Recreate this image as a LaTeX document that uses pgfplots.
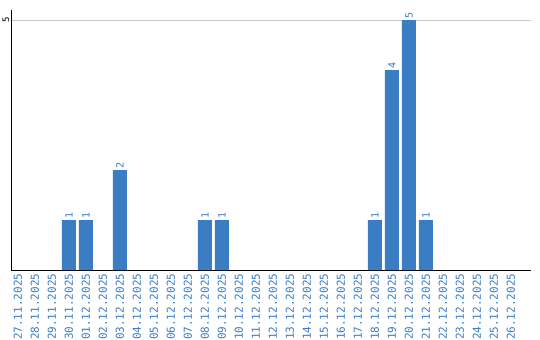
\documentclass[border=0pt]{standalone}
\usepackage{fontspec}
\setmainfont{DejaVu Sans Mono}
\usepackage{pgfplots}
\pgfplotsset{compat=1.18}
\definecolor{barblue}{RGB}{59,125,195}
\begin{document}
\begin{tikzpicture}
\useasboundingbox (-11bp,-70bp) rectangle (529bp,270bp);
\begin{axis}[
  at={(0,0)}, anchor=south west,
  scale only axis, width=520bp, height=260bp,
  xmin=-0.41, xmax=30.18, ymin=0, ymax=5.2,
  ybar, bar width=14bp,
  axis x line*=bottom, axis y line*=left,
  axis line style={black, line width=1pt},
  xtick={0,...,29},
  xticklabels={27.11.2025,28.11.2025,29.11.2025,30.11.2025,01.12.2025,02.12.2025,03.12.2025,04.12.2025,05.12.2025,06.12.2025,07.12.2025,08.12.2025,09.12.2025,10.12.2025,11.12.2025,12.12.2025,13.12.2025,14.12.2025,15.12.2025,16.12.2025,17.12.2025,18.12.2025,19.12.2025,20.12.2025,21.12.2025,22.12.2025,23.12.2025,24.12.2025,25.12.2025,26.12.2025},
  xticklabel style={rotate=90, anchor=east, text=barblue, font=\fontsize{11bp}{11bp}\selectfont, inner sep=3.5bp},
  ytick={5},
  yticklabel style={rotate=90, anchor=south, font=\fontsize{9bp}{9bp}\selectfont, inner sep=1.5bp},
  ymajorgrids, grid style={black!20, line width=0.8pt},
  major tick length=0pt,
  /pgf/number format/assume math mode=true,
  nodes near coords,
  every node near coord/.append style={rotate=90, anchor=west, text=barblue, font=\fontsize{10bp}{10bp}\selectfont, inner sep=1pt},
]
\addplot[fill=barblue, draw=none] coordinates {(3,1) (4,1) (6,2) (11,1) (12,1) (21,1) (22,4) (23,5) (24,1)};
\end{axis}
\end{tikzpicture}
\end{document}
